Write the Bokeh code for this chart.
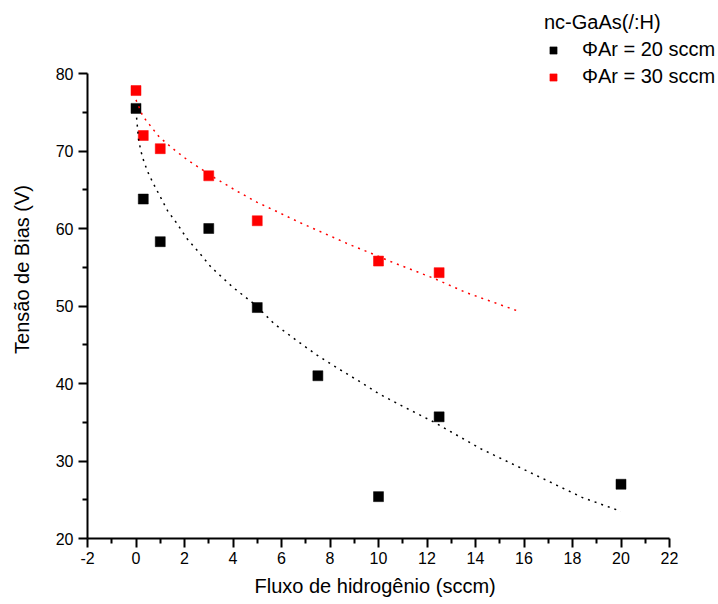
from bokeh.plotting import figure
from bokeh.models import Legend, LegendItem, Range1d, FixedTicker, Title
from bokeh.embed import file_html
from bokeh.resources import INLINE

# Bias voltage measured against hydrogen flow, for two argon flows
h2_flow_ar20 = [0, 0.3, 1, 3, 5, 7.5, 10, 12.5, 20]
bias_ar20 = [75.5, 63.8, 58.3, 60.0, 49.8, 41.0, 25.4, 35.7, 27.0]

h2_flow_ar30 = [0, 0.3, 1, 3, 5, 10, 12.5]
bias_ar30 = [77.8, 72.0, 70.3, 66.8, 61.0, 55.8, 54.3]

# Trend curves through each series
fit_x_ar20 = [0, 0.1, 0.2, 0.33, 0.5, 0.7, 1.0, 1.3, 1.7, 2.1, 2.6, 3.1, 4.0, 4.9,
              5.7, 6.6, 7.4, 8.3, 9.2, 10.0, 11.1, 12.3, 14.2, 16.0, 18.4, 20.0]
fit_y_ar20 = [75.2, 71.6, 70.0, 68.6, 67.2, 65.9, 64.1, 62.3, 60.6, 58.7, 56.9, 55.0, 52.4, 50.2,
              47.7, 45.6, 43.8, 42.0, 40.3, 38.7, 36.9, 35.0, 31.6, 28.9, 25.3, 23.5]

fit_x_ar30 = [0, 0.28, 0.48, 0.73, 0.96, 1.56, 2.14, 2.73, 3.26, 4.12, 4.98, 5.87, 6.73,
              7.89, 8.75, 9.62, 10.45, 12.26, 13.64, 15.8]
fit_y_ar30 = [76.6, 74.5, 73.7, 72.7, 71.8, 70.2, 68.8, 67.6, 66.5, 64.9, 63.4, 62.1, 60.8,
              59.2, 58.0, 56.9, 55.8, 53.6, 51.7, 49.3]

x_ticks = list(range(-2, 23, 2))
x_minor = list(range(-1, 22, 2))
y_ticks = list(range(20, 81, 10))
y_minor = list(range(25, 80, 10))

labels = ["\u03a6Ar = 20 sccm", "\u03a6Ar = 30 sccm"]
legend_title = "nc-GaAs(/:H)"
x_label = "Fluxo de hidrog\u00eanio (sccm)"
y_label = "Tens\u00e3o de Bias (V)"

FONT = "Liberation Sans"

# Axes span -2..22 and 20..80; the frame runs on to the top and right edges
# so the legend has room in the upper-right corner.
PX_X = 582 / 24.0
PX_Y = 465 / 60.0
LEFT, BOTTOM = 87, 66
W, H = 718, 604
x_end = -2 + (W - LEFT) / PX_X
y_end = 20 + (H - BOTTOM) / PX_Y

p = figure(
    width=W, height=H,
    x_range=Range1d(-2, x_end), y_range=Range1d(20, y_end),
    output_backend="svg", toolbar_location=None,
    min_border_left=LEFT, min_border_right=0,
    min_border_top=0, min_border_bottom=BOTTOM,
    y_axis_label=y_label,
)
p.outline_line_color = None
p.xgrid.visible = False
p.ygrid.visible = False
p.background_fill_color = "white"
p.border_fill_color = "white"

p.xaxis.ticker = FixedTicker(ticks=x_ticks, minor_ticks=x_minor)
p.yaxis.ticker = FixedTicker(ticks=y_ticks, minor_ticks=y_minor)
p.xaxis.bounds = (-2, 22)
p.yaxis.bounds = (20, 80)
# plain hyphen for the negative tick
p.xaxis.major_label_overrides = {t: str(t) for t in x_ticks}

for ax in (p.xaxis[0], p.yaxis[0]):
    ax.axis_line_width = 2
    ax.axis_line_color = "black"
    ax.major_tick_line_width = 2
    ax.minor_tick_line_width = 2
    ax.major_tick_line_color = "black"
    ax.minor_tick_line_color = "black"
    ax.major_tick_in = 0
    ax.major_tick_out = 9
    ax.minor_tick_in = 0
    ax.minor_tick_out = 5
    ax.major_label_text_font = FONT
    ax.major_label_text_font_size = "16px"
    ax.major_label_text_color = "black"
    ax.axis_label_text_font = FONT
    ax.axis_label_text_font_size = "20px"
    ax.axis_label_text_font_style = "normal"
    ax.axis_label_text_color = "black"

p.xaxis.major_label_standoff = 4
p.yaxis.major_label_standoff = 5
p.yaxis.axis_label_standoff = 20

# x-axis caption, placed under the middle of the -2..22 span of the axis
p.add_layout(Title(text=x_label, align="left", offset=167, standoff=12,
                   text_font=FONT, text_font_size="20px",
                   text_font_style="normal", text_color="black"), "below")

r20 = p.scatter(h2_flow_ar20, bias_ar20, marker="square", size=10,
                fill_color="black", line_color="black", line_width=0.5)
r30 = p.scatter(h2_flow_ar30, bias_ar30, marker="square", size=10,
                fill_color="#ff0000", line_color="#ff0000", line_width=0.5)

p.line(fit_x_ar20, fit_y_ar20, line_color="black", line_width=1.5, line_dash="2 5")
p.line(fit_x_ar30, fit_y_ar30, line_color="#ff0000", line_width=1.5, line_dash="2 5")

legend = Legend(
    items=[LegendItem(label=labels[0], renderers=[r20]),
           LegendItem(label=labels[1], renderers=[r30])],
    title=legend_title,
    location=(457, 450),
    orientation="vertical",
    padding=0, margin=0, spacing=4,
    glyph_width=18, glyph_height=18, label_height=20,
    label_standoff=20,
    title_standoff=4,
    border_line_color=None,
    background_fill_alpha=0,
    label_text_font=FONT, label_text_font_size="20px", label_text_color="black",
    title_text_font=FONT, title_text_font_size="20px", title_text_color="black",
    title_text_font_style="normal",
)
p.add_layout(legend)

open("out.html", "w").write(file_html(p, INLINE))
